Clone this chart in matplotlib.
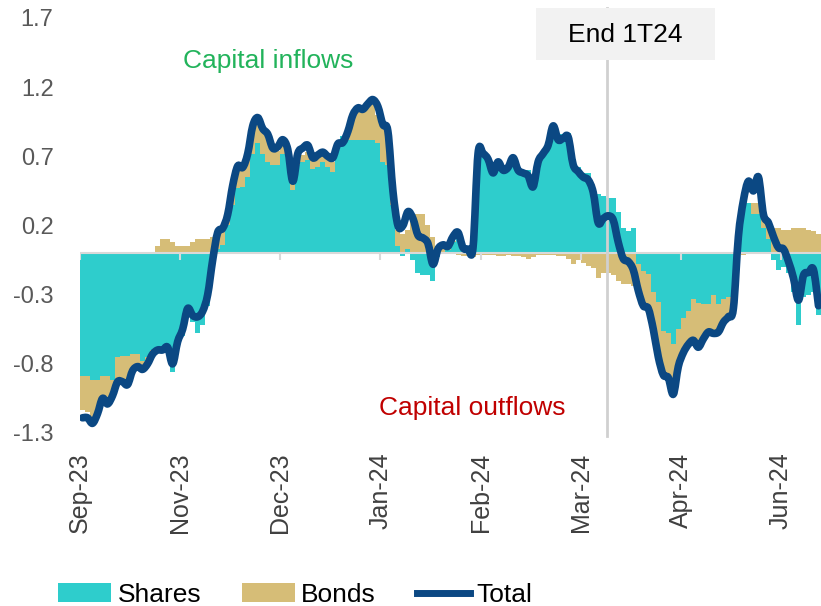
import numpy as np
import matplotlib
matplotlib.use("Agg")
import matplotlib.pyplot as plt
from matplotlib.patches import Patch, Rectangle, PathPatch
from matplotlib.path import Path
from matplotlib.lines import Line2D

plt.rcParams['font.family'] = ['Liberation Sans', 'DejaVu Sans']

# Daily portfolio flows (index points)
shares = [-0.885, -0.885, -0.92, -0.92, -0.885, -0.885, -0.92, -0.75, -0.745, -0.745,
          -0.73, -0.73, -0.78, -0.75, -0.70, -0.72, -0.70, -0.72, -0.86, -0.68,
          -0.60, -0.46, -0.50, -0.58, -0.52, -0.38, -0.12, 0.03, 0.06, 0.20,
          0.35, 0.47, 0.48, 0.55, 0.72, 0.80, 0.72, 0.66, 0.64, 0.64,
          0.72, 0.72, 0.46, 0.64, 0.66, 0.67, 0.61, 0.62, 0.66, 0.62,
          0.59, 0.75, 0.85, 0.82, 0.82, 0.82, 0.82, 0.82, 0.82, 0.80,
          0.66, 0.64, 0.35, 0.05, -0.02, 0.03, -0.05, -0.14, -0.16, -0.16,
          -0.20, -0.03, 0.00, 0.02, 0.08, 0.10, 0.03, 0.02, 0.03, 0.72,
          0.74, 0.68, 0.60, 0.66, 0.62, 0.61, 0.68, 0.62, 0.58, 0.60,
          0.50, 0.65, 0.72, 0.78, 0.90, 0.86, 0.86, 0.87, 0.68, 0.62,
          0.58, 0.58, 0.45, 0.43, 0.41, 0.40, 0.40, 0.30, 0.18, 0.16,
          0.18, -0.08, -0.13, -0.15, -0.28, -0.35, -0.56, -0.58, -0.66, -0.55,
          -0.47, -0.42, -0.33, -0.36, -0.37, -0.37, -0.30, -0.37, -0.33, -0.32,
          -0.28, 0.10, 0.36, 0.36, 0.28, 0.28, 0.18, 0.10, -0.05, -0.12,
          -0.10, -0.14, -0.28, -0.52, -0.32, -0.30, -0.28, -0.45]

bonds = [-0.25, -0.26, -0.28, -0.22, -0.17, -0.20, -0.12, -0.18, -0.18, -0.20,
         -0.12, -0.10, -0.06, -0.03, -0.03, 0.05, 0.10, 0.10, 0.08, 0.05,
         0.05, 0.05, 0.08, 0.10, 0.10, 0.10, 0.12, 0.12, 0.11, 0.12,
         0.13, 0.13, 0.12, 0.15, 0.18, 0.16, 0.18, 0.17, 0.10, 0.10,
         0.08, 0.05, 0.06, 0.06, 0.05, 0.06, 0.08, 0.07, 0.05, 0.07,
         0.07, 0.03, 0.00, 0.03, 0.15, 0.22, 0.20, 0.25, 0.28, 0.20,
         0.25, 0.24, 0.12, 0.12, 0.14, 0.14, 0.25, 0.28, 0.28, 0.20,
         0.12, 0.05, 0.04, 0.03, 0.01, -0.01, -0.02, -0.02, -0.03, -0.01,
         -0.01, -0.01, -0.01, -0.02, -0.02, -0.01, -0.02, -0.02, -0.03, -0.04,
         -0.03, -0.01, -0.01, -0.01, -0.01, -0.02, -0.02, -0.04, -0.08, -0.05,
         -0.07, -0.09, -0.11, -0.18, -0.14, -0.14, -0.16, -0.20, -0.22, -0.22,
         -0.24, -0.18, -0.25, -0.26, -0.25, -0.35, -0.32, -0.30, -0.36, -0.28,
         -0.25, -0.25, -0.30, -0.32, -0.25, -0.22, -0.26, -0.22, -0.18, -0.15,
         -0.14, 0.00, -0.01, 0.00, 0.08, 0.08, 0.10, 0.12, 0.18, 0.18,
         0.17, 0.17, 0.18, 0.18, 0.18, 0.17, 0.16, 0.14]

total = [-1.19, -1.19, -1.23, -1.16, -1.05, -1.09, -1.03, -0.93, -0.93, -0.95,
         -0.85, -0.82, -0.84, -0.80, -0.73, -0.70, -0.70, -0.68, -0.80, -0.64,
         -0.55, -0.40, -0.45, -0.46, -0.42, -0.30, -0.05, 0.15, 0.18, 0.28,
         0.49, 0.63, 0.62, 0.72, 0.92, 0.98, 0.90, 0.86, 0.76, 0.77,
         0.82, 0.75, 0.52, 0.72, 0.76, 0.78, 0.69, 0.71, 0.73, 0.70,
         0.69, 0.79, 0.80, 0.88, 1.00, 1.05, 1.04, 1.08, 1.11, 1.06,
         0.93, 0.88, 0.45, 0.20, 0.20, 0.30, 0.25, 0.13, 0.11, 0.07,
         -0.08, 0.03, 0.06, 0.05, 0.12, 0.15, 0.04, 0.03, 0.04, 0.72,
         0.72, 0.68, 0.58, 0.66, 0.60, 0.62, 0.69, 0.60, 0.58, 0.56,
         0.48, 0.66, 0.72, 0.78, 0.92, 0.82, 0.83, 0.84, 0.64, 0.59,
         0.55, 0.53, 0.44, 0.22, 0.25, 0.27, 0.24, 0.08, -0.04, -0.06,
         -0.12, -0.27, -0.38, -0.40, -0.55, -0.75, -0.88, -0.90, -1.02, -0.82,
         -0.72, -0.66, -0.63, -0.68, -0.62, -0.57, -0.58, -0.57, -0.50, -0.46,
         -0.40, 0.12, 0.38, 0.52, 0.45, 0.55, 0.28, 0.22, 0.12, 0.04,
         0.03, -0.06, -0.18, -0.34, -0.16, -0.14, -0.12, -0.38]

tick_labels = ['Sep-23', 'Nov-23', 'Dec-23', 'Jan-24', 'Feb-24', 'Mar-24', 'Apr-24', 'Jun-24']
tick_step = 20
quarter_end = 105.2   # position of end of 1T24

c_shares = '#2ECDCC'
c_bonds = '#D6BD77'
c_total = '#0B4883'

sh = np.array(shares)
bd = np.array(bonds)
x = np.arange(len(sh))
# Excel-style stacking: positives and negatives stack separately
bd_bottom = np.where(np.sign(bd) == np.sign(sh), sh, 0)


def smooth_path(xs, ys, t=1 / 6):
    # Catmull-Rom style bezier through the points (like Excel "smoothed line")
    pts = np.column_stack([xs, ys])
    verts = [pts[0]]
    codes = [Path.MOVETO]
    for k in range(len(pts) - 1):
        p0 = pts[max(k - 1, 0)]
        p1 = pts[k]
        p2 = pts[k + 1]
        p3 = pts[min(k + 2, len(pts) - 1)]
        verts += [p1 + (p2 - p0) * t, p2 - (p3 - p1) * t, p2]
        codes += [Path.CURVE4] * 3
    return Path(verts, codes)


fig = plt.figure(figsize=(8.21, 6.06), dpi=100)
ax = fig.add_axes([80 / 821, 173 / 606, 741 / 821, 415 / 606])

ax.bar(x, sh, width=1.0, align='edge', color=c_shares, linewidth=0, zorder=2)
ax.bar(x, bd, bottom=bd_bottom, width=1.0, align='edge', color=c_bonds, linewidth=0, zorder=2)
ax.axhline(0, color='#D9D9D9', lw=1.5, zorder=3)
ticks = np.arange(0, len(tick_labels) * tick_step, tick_step)
ax.vlines(ticks, -0.05, 0, color='#D9D9D9', lw=1.5, zorder=3)
ax.add_patch(PathPatch(smooth_path(x + 0.5, total), facecolor='none',
                       edgecolor=c_total, lw=5.5, joinstyle='round',
                       capstyle='round', zorder=5))

ax.axvline(quarter_end, ymin=-0.007, ymax=1.024, color='#D0D0D0', lw=2,
           clip_on=False, zorder=4)

ax.set_xlim(0, len(sh))
ax.set_ylim(-1.3, 1.7)
ax.set_yticks([-1.3, -0.8, -0.3, 0.2, 0.7, 1.2, 1.7])
ax.set_yticklabels(['-1.3', '-0.8', '-0.3', '0.2', '0.7', '1.2', '1.7'])
ax.set_xticks(ticks)
ax.set_xticklabels(tick_labels, rotation=90, va='top', ha='center')
ax.tick_params(axis='y', length=0, pad=19, labelsize=17, labelcolor='#595959')
ax.tick_params(axis='x', length=0, pad=14, labelsize=18, labelcolor='#404040')
for s in ax.spines.values():
    s.set_visible(False)

ax.text(37.6, 1.39, 'Capital inflows', color='#22B35B', fontsize=19,
        ha='center', va='center')
ax.text(78.4, -1.12, 'Capital outflows', color='#C00000', fontsize=19,
        ha='center', va='center')

# "End 1T24" label box
fig.patches.append(Rectangle((536 / 821, 1 - 60 / 606), 179 / 821, 52 / 606,
                             transform=fig.transFigure, facecolor='#F2F2F2',
                             edgecolor='none', zorder=0))
fig.text(625 / 821, 1 - 35 / 606, 'End 1T24', fontsize=19, color='black',
         ha='center', va='center')

handles = [Patch(facecolor=c_shares, edgecolor='none'),
           Patch(facecolor=c_bonds, edgecolor='none'),
           Line2D([0], [0], color=c_total, lw=5)]
fig.legend(handles, ['Shares', 'Bonds', 'Total'], loc='center left',
           bbox_to_anchor=(58 / 821, 1 - 595 / 606), ncol=3, frameon=False,
           fontsize=19, handlelength=2.0, handleheight=0.75, handletextpad=0.25,
           columnspacing=1.55, borderpad=0, borderaxespad=0)

fig.savefig('out.png', dpi=100)
